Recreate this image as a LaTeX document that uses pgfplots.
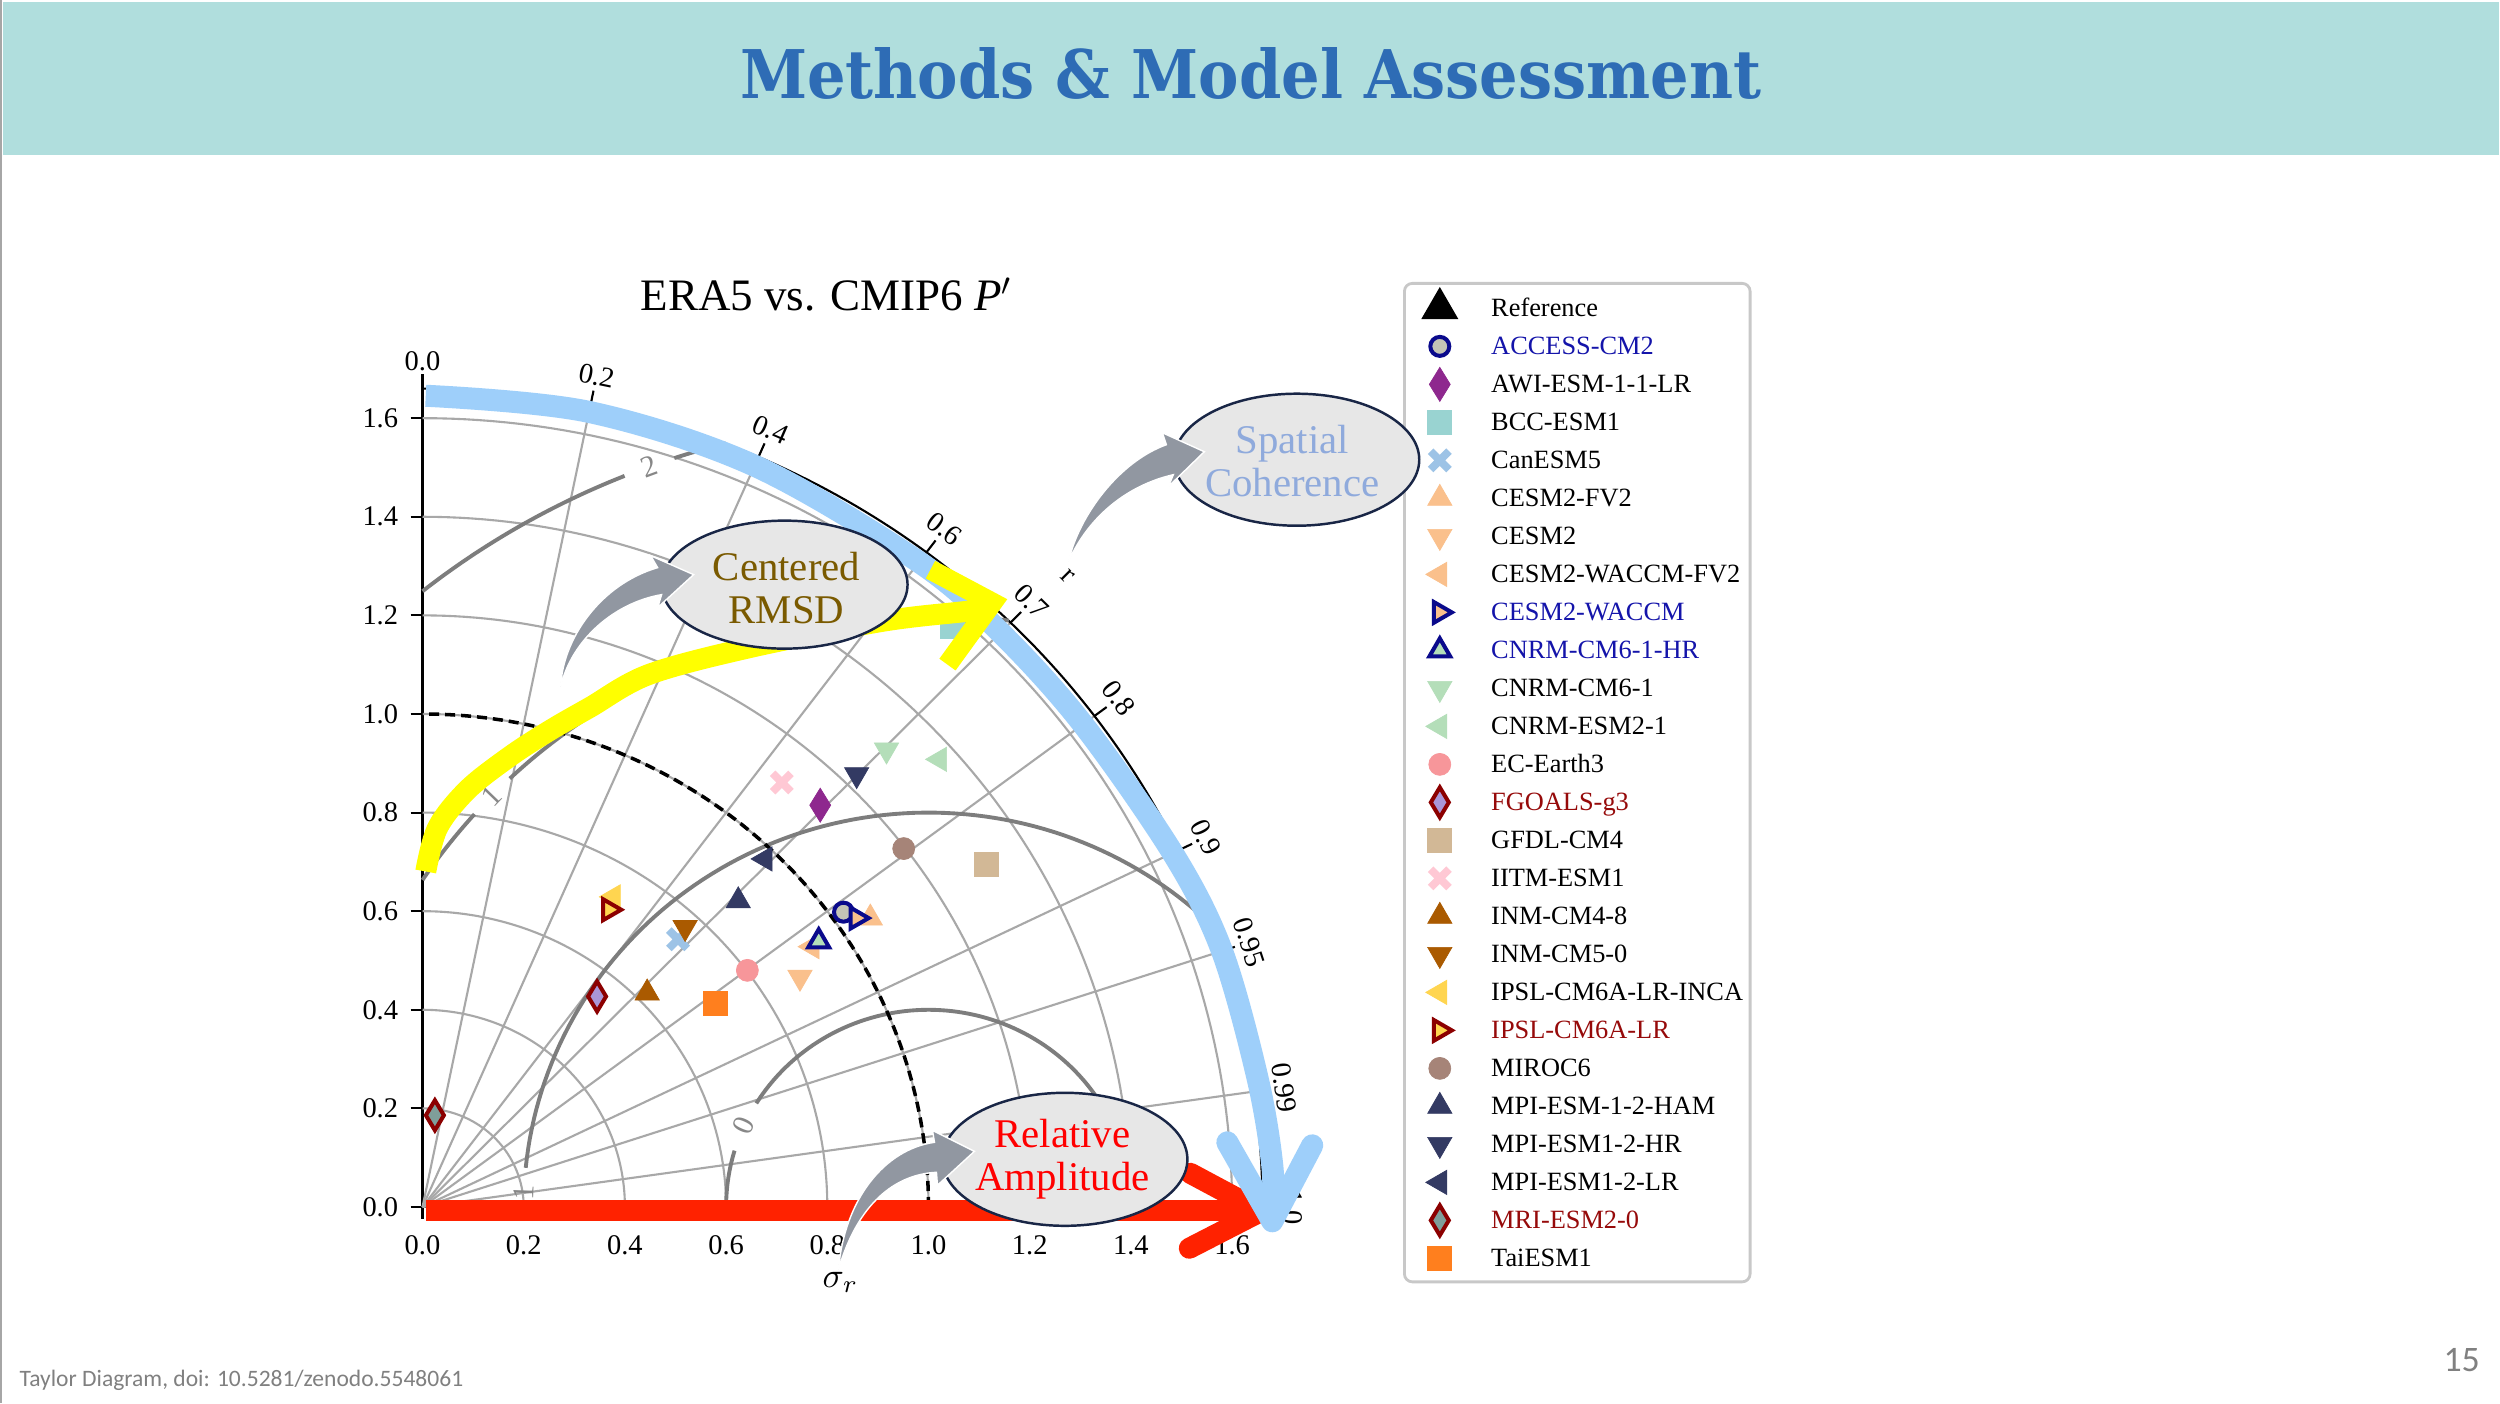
\documentclass[border=0pt]{standalone}
\usepackage{pgfplots}
\pgfplotsset{compat=1.18}
\usepackage{graphicx}
\usepackage{fontspec}
\setmainfont{Liberation Serif}
\newfontfamily\titlefont{DejaVu Serif}
\newfontfamily\footfont{Carlito}

\definecolor{bandc}{RGB}{176,222,221}
\definecolor{titlec}{RGB}{46,108,181}
\definecolor{gridc}{RGB}{168,168,168}
\definecolor{rmsdc}{RGB}{125,125,125}
\definecolor{rmsdlab}{RGB}{135,135,135}
\definecolor{bluearr}{RGB}{158,207,250}
\definecolor{yellarr}{RGB}{255,255,0}
\definecolor{redarr}{RGB}{255,34,0}
\definecolor{ellfill}{RGB}{231,231,231}
\definecolor{elldraw}{RGB}{25,38,70}
\definecolor{ptrc}{RGB}{145,151,161}
\definecolor{rmsdtxt}{RGB}{122,90,0}
\definecolor{spattxt}{RGB}{143,170,220}
\definecolor{ampltxt}{RGB}{255,0,0}
\definecolor{navyE}{RGB}{10,10,140}
\definecolor{bluetxt}{RGB}{20,20,170}
\definecolor{dred}{RGB}{140,0,0}
\definecolor{redtxt}{RGB}{150,10,10}
\definecolor{cAccessF}{RGB}{196,196,182}
\definecolor{cAWI}{RGB}{142,40,142}
\definecolor{cBCC}{RGB}{153,211,209}
\definecolor{cCan}{RGB}{157,195,230}
\definecolor{cPeach}{RGB}{250,192,140}
\definecolor{cGreen}{RGB}{180,222,185}
\definecolor{cEC}{RGB}{247,150,154}
\definecolor{cFGOF}{RGB}{170,150,215}
\definecolor{cGFDL}{RGB}{210,184,150}
\definecolor{cIITM}{RGB}{255,200,212}
\definecolor{cINM}{RGB}{170,90,0}
\definecolor{cIPSL}{RGB}{255,213,80}
\definecolor{cMIROC}{RGB}{166,132,120}
\definecolor{cMPI}{RGB}{51,58,99}
\definecolor{cMRIF}{RGB}{127,158,154}
\definecolor{cTai}{RGB}{255,127,30}
\definecolor{legc}{RGB}{200,200,200}
\definecolor{footc}{RGB}{128,128,128}

\newcommand\tickf{\fontsize{8.1}{9.5}\selectfont}
\newcommand\legf{\fontsize{7.5}{9}\selectfont}
\newcommand\rmsdf{\fontsize{8.6}{10}\selectfont}
\newcommand\ellf{\fontsize{11.6}{12.2}\selectfont}

% filled "X" marker
\pgfdeclareplotmark{bigX}{%
  \pgftransformrotate{45}%
  \pgfpathrectangle{\pgfpoint{-\pgfplotmarksize}{-0.3\pgfplotmarksize}}{\pgfpoint{2\pgfplotmarksize}{0.6\pgfplotmarksize}}%
  \pgfpathrectangle{\pgfpoint{-0.3\pgfplotmarksize}{-\pgfplotmarksize}}{\pgfpoint{0.6\pgfplotmarksize}{2\pgfplotmarksize}}%
  \pgfusepathqfill}

\pgfplotsset{
  mk/.style={only marks,
    legend image code/.code={\path (0cm,0cm) (0.77cm,0cm);
      \draw[sharp corners,line width=0.4pt,##1] plot coordinates {(0.29cm,0cm)};}},
  refmk/.style={only marks,
    legend image code/.code={\path (0cm,0cm) (0.77cm,0cm);
      \draw[sharp corners,line width=0.4pt,##1,mark size=0.2cm] plot coordinates {(0.29cm,0cm)};}},
  fm/.style n args={4}{mk, mark=#1, mark size=#2,
    mark options={draw=#3, fill=#3, line width=0.2pt, sharp corners, #4}},
  em/.style n args={5}{mk, mark=#1, mark size=#2,
    mark options={draw=#3, fill=#4, line width=0.04cm, sharp corners, #5}},
}

\begin{document}
\begin{tikzpicture}
\useasboundingbox (0,0) rectangle (25,14.04);
\fill[white] (0,0) rectangle (25,14.04);

\begin{scope}[x=0.01cm,y=-0.01cm,yshift=14.04cm]
  \fill[bandc] (3,2) rectangle (2500,155);
  \draw[gray!70, line width=0.02cm] (1,0) -- (1,1404);
  \node[anchor=base, inner sep=0, text=titlec] at (1251.5,99)
    {\resizebox{10.21cm}{0.51cm}{\titlefont\bfseries Methods \& Model Assessment}};
  \node[anchor=base, inner sep=0] at (827,311)
    {\fontsize{12.8}{14}\selectfont ERA5 vs. CMIP6 \textit{P}$'$};
  \node[anchor=base west, inner sep=0, text=footc] at (19,1387)
    {\footfont\fontsize{6.7}{8}\selectfont Taylor Diagram, doi: 10.5281/zenodo.5548061};
  \node[anchor=base east, inner sep=0, text=footc] at (2482,1372)
    {\footfont\fontsize{10.2}{12}\selectfont 15};
\end{scope}

\begin{axis}[
  at={(4.225cm,1.97cm)}, anchor=south west,
  x=5.06cm, y=4.93cm,
  xmin=0, xmax=1.66, ymin=0, ymax=1.66,
  enlargelimits=false, clip=false,
  axis lines=left,
  axis line style={-, line width=0.8pt, black},
  xtick={0,0.2,0.4,0.6,0.8,1.0,1.2,1.4,1.6},
  ytick={0,0.2,0.4,0.6,0.8,1.0,1.2,1.4,1.6},
  tick align=outside, major tick length=0.12cm,
  tick style={black, line width=0.6pt},
  tick label style={font=\tickf},
  xticklabel style={yshift=-0.04cm},
  /pgf/number format/fixed, /pgf/number format/fixed zerofill,
  /pgf/number format/precision=1, /pgf/number format/assume math mode=true,
  legend cell align=left,
  legend style={at={(1.1673,1.1303)}, anchor=north west, draw=legc, line width=0.8pt,
     rounded corners=0.08cm, inner sep=0.05cm, row sep=0.01cm, fill=white, font=\legf,
     nodes={inner sep=0.02cm, text height=0.25cm, text depth=0.08cm, font=\legf}},
]
\pgfplotsinvokeforeach{0.2,0.4,0.6,0.8,1.0,1.2,1.4,1.6}{
  \addplot[forget plot, gridc, line width=0.6pt, domain=0:90, samples=91] ({#1*cos(x)},{#1*sin(x)});
}
\pgfplotsinvokeforeach{0.2,0.4,0.6,0.7,0.8,0.9,0.95,0.99}{
  \draw[gridc, line width=0.6pt] (axis cs:0,0) -- (axis cs:{1.66*#1},{1.66*sin(acos(#1))});
  \draw[black, line width=0.6pt] (axis cs:{1.66*#1},{1.66*sin(acos(#1))}) -- (axis cs:{1.69*#1},{1.69*sin(acos(#1))});
  \node[font=\tickf, rotate={acos(#1)-90}, inner sep=0] at (axis cs:{1.72*#1},{1.72*sin(acos(#1))}) {#1};
}
\addplot[forget plot, black, line width=0.6pt, domain=0:90, samples=120] ({1.66*cos(x)},{1.66*sin(x)});
\draw[black, line width=0.6pt] (axis cs:0,1.66) -- (axis cs:0,1.69);
\node[font=\tickf, inner sep=0] at (axis cs:0,1.715) {0.0};
\node[font=\tickf, inner sep=0, rotate=-90] at (axis cs:1.72,0) {1.0};
\node[font=\tickf, inner sep=0, rotate=-45] at (axis cs:{1.806*cos(45.1)},{1.806*sin(45.1)}) {r};
\addplot[forget plot, rmsdc, line width=1.1pt, domain=163.4:180, samples=20] ({1+0.4*cos(x)},{0.4*sin(x)});
\addplot[forget plot, rmsdc, line width=1.1pt, domain=0:148.3, samples=90] ({1+0.4*cos(x)},{0.4*sin(x)});
\addplot[forget plot, rmsdc, line width=1.1pt, domain=45.8:174.3, samples=90] ({1+0.8*cos(x)},{0.8*sin(x)});
\addplot[forget plot, rmsdc, line width=1.1pt, domain=82.4:133.6, samples=60] ({1+1.2*cos(x)},{1.2*sin(x)});
\addplot[forget plot, rmsdc, line width=1.1pt, domain=138.4:146.44, samples=20] ({1+1.2*cos(x)},{1.2*sin(x)});
\addplot[forget plot, rmsdc, line width=1.1pt, domain=104.5:108.3, samples=10] ({1+1.6*cos(x)},{1.6*sin(x)});
\addplot[forget plot, rmsdc, line width=1.1pt, domain=112.05:128.68, samples=30] ({1+1.6*cos(x)},{1.6*sin(x)});
\node[font=\rmsdf, text=rmsdlab, rotate=65.7, inner sep=0] at (axis cs:0.635,0.165) {0};
\node[font=\rmsdf, text=rmsdlab, rotate=87.9, inner sep=0] at (axis cs:0.2005,0.029) {1};
\node[font=\rmsdf, text=rmsdlab, rotate=46, inner sep=0] at (axis cs:0.137,0.834) {1};
\node[font=\rmsdf, text=rmsdlab, rotate=20.2, inner sep=0] at (axis cs:0.448,1.502) {2};
\addplot[forget plot, black, line width=1pt, dash pattern=on 0.1cm off 0.06cm, domain=0:90, samples=91] ({cos(x)},{sin(x)});

\addplot[refmk, mark=triangle*, mark size=0.075cm, mark options={draw=black, fill=black, sharp corners}] coordinates {(1,0)};
\addlegendentry{Reference}
\addplot[em={*}{0.095cm}{navyE}{cAccessF}{}] coordinates {(0.832,0.598)};
\addlegendentry{\textcolor{bluetxt}{ACCESS-CM2}}
\addplot[fm={diamond*}{0.17cm}{cAWI}{xscale=0.82}] coordinates {(0.786,0.815)};
\addlegendentry{AWI-ESM-1-1-LR}
\addplot[fm={square*}{0.12cm}{cBCC}{}] coordinates {(1.048,1.177)};
\addlegendentry{BCC-ESM1}
\addplot[fm={bigX}{0.13cm}{cCan}{}] coordinates {(0.505,0.543)};
\addlegendentry{CanESM5}
\addplot[fm={triangle*}{0.14cm}{cPeach}{}] coordinates {(0.885,0.586)};
\addlegendentry{CESM2-FV2}
\addplot[fm={triangle*}{0.14cm}{cPeach}{rotate=180}] coordinates {(0.746,0.466)};
\addlegendentry{CESM2}
\addplot[fm={triangle*}{0.14cm}{cPeach}{rotate=90}] coordinates {(0.77,0.528)};
\addlegendentry{CESM2-WACCM-FV2}
\addplot[em={triangle*}{0.12cm}{navyE}{cPeach}{rotate=-90}] coordinates {(0.858,0.586)};
\addlegendentry{\textcolor{bluetxt}{CESM2-WACCM}}
\addplot[em={triangle*}{0.12cm}{navyE}{cGreen}{}] coordinates {(0.783,0.539)};
\addlegendentry{\textcolor{bluetxt}{CNRM-CM6-1-HR}}
\addplot[fm={triangle*}{0.14cm}{cGreen}{rotate=180}] coordinates {(0.917,0.927)};
\addlegendentry{CNRM-CM6-1}
\addplot[fm={triangle*}{0.14cm}{cGreen}{rotate=90}] coordinates {(1.022,0.908)};
\addlegendentry{CNRM-ESM2-1}
\addplot[fm={*}{0.11cm}{cEC}{}] coordinates {(0.642,0.48)};
\addlegendentry{EC-Earth3}
\addplot[em={diamond*}{0.15cm}{dred}{cFGOF}{xscale=0.8}] coordinates {(0.345,0.427)};
\addlegendentry{\textcolor{redtxt}{FGOALS-g3}}
\addplot[fm={square*}{0.12cm}{cGFDL}{}] coordinates {(1.114,0.695)};
\addlegendentry{GFDL-CM4}
\addplot[fm={bigX}{0.13cm}{cIITM}{}] coordinates {(0.71,0.861)};
\addlegendentry{IITM-ESM1}
\addplot[fm={triangle*}{0.14cm}{cINM}{}] coordinates {(0.444,0.434)};
\addlegendentry{INM-CM4-8}
\addplot[fm={triangle*}{0.14cm}{cINM}{rotate=180}] coordinates {(0.519,0.567)};
\addlegendentry{INM-CM5-0}
\addplot[fm={triangle*}{0.14cm}{cIPSL}{rotate=90}] coordinates {(0.377,0.629)};
\addlegendentry{IPSL-CM6A-LR-INCA\hspace{0.07cm}}
\addplot[em={triangle*}{0.12cm}{dred}{cIPSL}{rotate=-90}] coordinates {(0.369,0.603)};
\addlegendentry{\textcolor{redtxt}{IPSL-CM6A-LR}}
\addplot[fm={*}{0.11cm}{cMIROC}{}] coordinates {(0.951,0.727)};
\addlegendentry{MIROC6}
\addplot[fm={triangle*}{0.14cm}{cMPI}{}] coordinates {(0.624,0.621)};
\addlegendentry{MPI-ESM-1-2-HAM}
\addplot[fm={triangle*}{0.14cm}{cMPI}{rotate=180}] coordinates {(0.858,0.877)};
\addlegendentry{MPI-ESM1-2-HR}
\addplot[fm={triangle*}{0.14cm}{cMPI}{rotate=90}] coordinates {(0.677,0.706)};
\addlegendentry{MPI-ESM1-2-LR}
\addplot[em={diamond*}{0.15cm}{dred}{cMRIF}{xscale=0.8}] coordinates {(0.0245,0.186)};
\addlegendentry{\textcolor{redtxt}{MRI-ESM2-0}}
\addplot[fm={square*}{0.12cm}{cTai}{}] coordinates {(0.578,0.413)};
\addlegendentry{TaiESM1}
\end{axis}

\begin{scope}[x=0.01cm,y=-0.01cm,yshift=14.04cm]
  \draw[redarr, line width=0.21cm] (426,1211.5) -- (1262,1211.5);
  \draw[redarr, line width=0.21cm, line cap=round, line join=round] (1191,1174) -- (1262,1212) -- (1190,1249);
  \draw[bluearr, line width=0.22cm] plot[smooth, tension=0.55] coordinates
    {(426,396) (588.5,412) (755,466) (919,562) (1000.3,632.2) (1082.9,723.9) (1173.3,853.4) (1222.4,950.8) (1258.1,1078.1) (1273.1,1167.2) (1273,1222)};
  \draw[bluearr, line width=0.22cm, line cap=round, line join=round] (1228,1143) -- (1273,1222) -- (1313,1146);
  \draw[yellarr, line width=0.21cm] plot[smooth, tension=0.55] coordinates
    {(426,872) (438,828) (468,790) (510,757) (550,731) (590,708) (649,675) (750,648) (881,622) (965,612) (992,609)};
  \draw[yellarr, line width=0.2cm] (931,570) -- (993,603) -- (948,665);
  \filldraw[fill=ellfill, draw=elldraw, line width=0.7pt] (785,585) ellipse [x radius=1.23cm, y radius=0.64cm];
  \node[text=rmsdtxt, font=\ellf, align=center, inner sep=0] at (787,588) {Centered\\RMSD};
  \filldraw[fill=ellfill, draw=elldraw, line width=0.7pt] (1297.5,460) ellipse [x radius=1.225cm, y radius=0.66cm];
  \node[text=spattxt, font=\ellf, align=center, inner sep=0] at (1293,461) {Spatial\\Coherence};
  \filldraw[fill=ellfill, draw=elldraw, line width=0.7pt] (1065.5,1160) ellipse [x radius=1.225cm, y radius=0.665cm];
  \node[text=ampltxt, font=\ellf, align=center, inner sep=0] at (1063,1160) {Relative\\Amplitude};
  \filldraw[fill=ptrc, draw=white, line width=0.4pt] (561,687) .. controls (563,640) and (600,585) .. (658,568)
     -- (651,556) -- (694,575) -- (658,608) -- (662,595) .. controls (615,603) and (572,640) .. (561,687) -- cycle;
  \filldraw[fill=ptrc, draw=white, line width=0.4pt] (1069,562) .. controls (1080,515) and (1120,462) .. (1167,445)
     -- (1163,433) -- (1205,452) -- (1169,487) -- (1174,475) .. controls (1130,485) and (1090,515) .. (1069,562) -- cycle;
  \filldraw[fill=ptrc, draw=white, line width=0.4pt] (839,1270) .. controls (845,1200) and (885,1150) .. (935,1143)
     -- (933,1131) -- (975,1152) -- (938,1186) -- (937,1173) .. controls (895,1175) and (858,1205) .. (839,1270) -- cycle;
  \node[inner sep=0] at (841,1283) {\fontsize{10}{12}\selectfont$\sigma_r$};
\end{scope}
\end{tikzpicture}
\end{document}
